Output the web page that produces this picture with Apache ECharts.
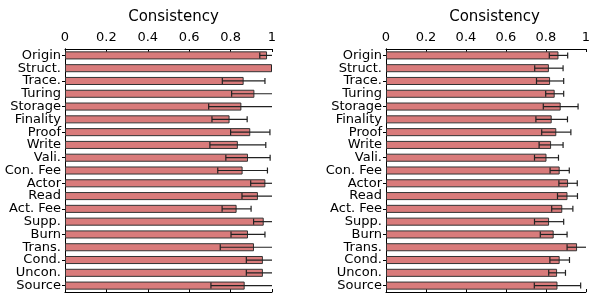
<!DOCTYPE html>
<html>
<head>
<meta charset="utf-8">
<script src="https://cdn.jsdelivr.net/npm/echarts@6/dist/echarts.min.js"></script>
<style>
  html, body { margin: 0; padding: 0; background: #fff; }
  #main { width: 593px; height: 294px; }
</style>
</head>
<body>
<div id="main"></div>
<script>
// categories, top to bottom
var categories = ["Origin", "Struct.", "Trace.", "Turing", "Storage", "Finality", "Proof", "Write", "Vali.",
  "Con. Fee", "Actor", "Read", "Act. Fee", "Supp.", "Burn", "Trans.", "Cond.", "Uncon.", "Source"];

// left panel
var leftMean = [0.976, 1.0, 0.863, 0.915, 0.852, 0.795, 0.895, 0.835, 0.884,
  0.858, 0.968, 0.932, 0.829, 0.96, 0.884, 0.913, 0.956, 0.956, 0.868];
var leftErr = [0.035, 0.0, 0.103, 0.11, 0.158, 0.085, 0.095, 0.135, 0.107,
  0.12, 0.071, 0.077, 0.07, 0.049, 0.082, 0.163, 0.08, 0.08, 0.163];

// right panel
var rightMean = [0.863, 0.815, 0.821, 0.844, 0.874, 0.829, 0.852, 0.826, 0.803,
  0.869, 0.911, 0.908, 0.882, 0.816, 0.839, 0.956, 0.869, 0.856, 0.858];
var rightErr = [0.046, 0.071, 0.068, 0.045, 0.087, 0.079, 0.073, 0.06, 0.06,
  0.048, 0.046, 0.05, 0.053, 0.073, 0.067, 0.05, 0.049, 0.042, 0.116];

var xTicks = [0, 0.2, 0.4, 0.6, 0.8, 1];

var FONT = "DejaVu Sans";
var barFill = "#d97b7b";

function errData(mean, err) {
  return mean.map(function (m, i) { return [i, m - err[i], m + err[i]]; });
}

function renderErr(params, api) {
  var y = api.value(0);
  var a = api.coord([api.value(1), y]);
  var b = api.coord([api.value(2), y]);
  var h = 3;
  var st = { stroke: "#222", lineWidth: 1.2 };
  return {
    type: "group",
    children: [
      { type: "line", shape: { x1: a[0], y1: a[1], x2: b[0], y2: b[1] }, style: st },
      { type: "line", shape: { x1: a[0], y1: a[1] - h, x2: a[0], y2: a[1] + h }, style: st },
      { type: "line", shape: { x1: b[0], y1: b[1] - h, x2: b[0], y2: b[1] + h }, style: st }
    ]
  };
}

var grids = [
  { left: 65, top: 49, width: 207, height: 243 },
  { left: 386, top: 49, width: 207, height: 243 }
];

var xAxes = [], yAxes = [], series = [], titles = [];
[[leftMean, leftErr], [rightMean, rightErr]].forEach(function (p, g) {
  titles.push({
    text: "Consistency",
    left: grids[g].left + grids[g].width / 2,
    top: 5,
    textAlign: "center",
    textStyle: { fontFamily: FONT, fontSize: 15, fontWeight: "normal", color: "#000" }
  });
  // top axis with labels
  xAxes.push({
    gridIndex: g, type: "value", position: "top", min: 0, max: 1, interval: 0.2,
    axisLine: { show: true, lineStyle: { color: "#000", width: 1 } },
    axisTick: { show: true, inside: true, length: 3, lineStyle: { color: "#000" } },
    axisLabel: {
      fontFamily: FONT, fontSize: 13, color: "#000", margin: 5,
      formatter: function (v) { return xTicks.indexOf(+v.toFixed(1)) >= 0 ? String(+v.toFixed(1)) : ""; }
    },
    splitLine: { show: false }
  });
  // bottom axis: ticks only
  xAxes.push({
    gridIndex: g, type: "value", position: "bottom", min: 0, max: 1, interval: 0.2,
    axisLine: { show: true, lineStyle: { color: "#000", width: 1 } },
    axisTick: { show: true, inside: true, length: 3, lineStyle: { color: "#000" } },
    axisLabel: { show: false },
    splitLine: { show: false }
  });
  yAxes.push({
    gridIndex: g, type: "category", data: categories, inverse: true, position: "left",
    axisLine: { show: true, lineStyle: { color: "#000", width: 1 } },
    axisTick: { show: true, inside: true, length: 3, alignWithLabel: true, lineStyle: { color: "#000" } },
    axisLabel: { fontFamily: FONT, fontSize: 13, color: "#000", margin: 4, interval: 0 }
  });
  yAxes.push({
    gridIndex: g, type: "category", data: categories, inverse: true, position: "right",
    axisLine: { show: true, lineStyle: { color: "#000", width: 1 } },
    axisTick: { show: true, inside: true, length: 3, alignWithLabel: true, lineStyle: { color: "#000" } },
    axisLabel: { show: false }
  });
  series.push({
    type: "bar", xAxisIndex: g * 2, yAxisIndex: g * 2, data: p[0], barWidth: "63%",
    itemStyle: { color: barFill, borderColor: "#333", borderWidth: 1 },
    silent: true
  });
  series.push({
    type: "custom", xAxisIndex: g * 2, yAxisIndex: g * 2, data: errData(p[0], p[1]),
    encode: { x: [1, 2], y: 0 }, renderItem: renderErr, clip: true, z: 5, silent: true
  });
});

var myChart = echarts.init(document.getElementById("main"), null, { renderer: "canvas" });
myChart.setOption({
  animation: false,
  backgroundColor: "#fff",
  title: titles,
  grid: grids,
  xAxis: xAxes,
  yAxis: yAxes,
  series: series
});
</script>
</body>
</html>
